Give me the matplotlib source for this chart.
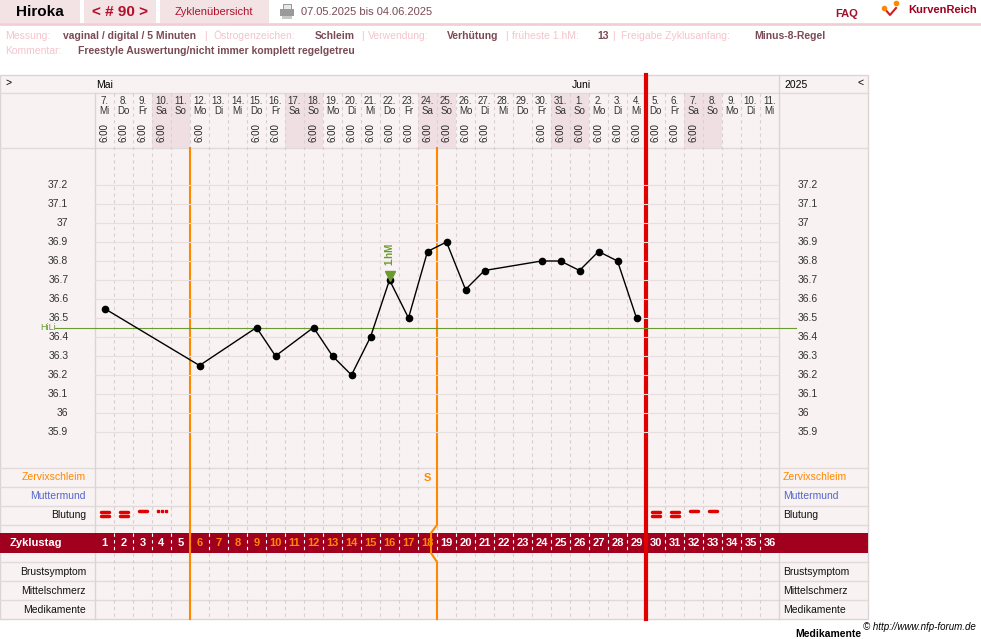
"""NFP cycle chart (KurvenReich style) rebuilt with matplotlib."""
import matplotlib; matplotlib.use("Agg")
import matplotlib.pyplot as plt
from matplotlib.patches import Rectangle

plt.rcParams["font.family"] = ["Liberation Sans", "DejaVu Sans"]

# ---- data ----
dates = ["7.", "8.", "9.", "10.", "11.", "12.", "13.", "14.", "15.", "16.", "17.", "18.",
         "19.", "20.", "21.", "22.", "23.", "24.", "25.", "26.", "27.", "28.", "29.", "30.",
         "31.", "1.", "2.", "3.", "4.", "5.", "6.", "7.", "8.", "9.", "10.", "11."]
weekdays = ["Mi", "Do", "Fr", "Sa", "So", "Mo", "Di", "Mi", "Do", "Fr", "Sa", "So",
            "Mo", "Di", "Mi", "Do", "Fr", "Sa", "So", "Mo", "Di", "Mi", "Do", "Fr",
            "Sa", "So", "Mo", "Di", "Mi", "Do", "Fr", "Sa", "So", "Mo", "Di", "Mi"]
time_days = [1, 2, 3, 4, 6, 9, 10, 12, 13, 14, 15, 16, 17, 18, 19, 20, 21,
             24, 25, 26, 27, 28, 29, 30, 31, 32]
temp_days = [1, 6, 9, 10, 12, 13, 14, 15, 16, 17, 18, 19, 20, 21, 24, 25, 26, 27, 28, 29]
temps = [36.55, 36.25, 36.45, 36.3, 36.45, 36.3, 36.2, 36.4, 36.7, 36.5, 36.85, 36.9,
         36.65, 36.75, 36.8, 36.8, 36.75, 36.85, 36.8, 36.5]
hili = 36.45
first_hm_day = 16
yticks = [35.9, 36.0, 36.1, 36.2, 36.3, 36.4, 36.5, 36.6, 36.7, 36.8, 36.9, 37.0, 37.1, 37.2]
bleed_days = [1, 2, 3, 4, 30, 31, 32, 33]
bleed_kind = ["=", "=", "-", ".", "=", "=", "-", "-"]
fertile_days = range(6, 19)
n_days = 36

# ---- layout (pixels) ----
W, H = 981, 639
X0, CW = 95, 19
XR = X0 + n_days * CW          # 779
XT = 868
BG = "#f8f2f2"; WE = "#f0dfe2"; GRID = "#d8d0d0"
ORANGE = "#ff8800"; RED = "#e00000"; DARK = "#a0001e"

def cx(d):
    return X0 + CW * (d - 0.5)

fig = plt.figure(figsize=(W / 100, H / 100), dpi=100)
ax = fig.add_axes([0, 0, 1, 1])
ax.set_xlim(0, W); ax.set_ylim(H, 0); ax.axis("off")

def rect(x, y, w, h, fc, ec="none", lw=0, z=0):
    ax.add_patch(Rectangle((x, y), w, h, fc=fc, ec=ec, lw=lw, zorder=z))

# header
rect(0, 0, 80, 23, "#f3e3e5"); rect(84, 0, 72, 23, "#f3e3e5"); rect(160, 0, 109, 23, "#f3e3e5")
ax.plot([0, W], [24, 24], c="#f0d0d5", lw=2)
ax.text(40, 12, "Hiroka", ha="center", va="center", fontsize=11, weight="bold")
ax.text(120, 12, "< # 90 >", ha="center", va="center", fontsize=11, weight="bold", color="#b0102a")
ax.text(214, 12, "Zyklenübersicht", ha="center", va="center", fontsize=8, color="#b0102a")
# printer icon
rect(280, 9, 14, 7, "#9a9a9a", z=2); rect(283, 4, 8, 6, "#e8e8e8", ec="#888", lw=0.6, z=1)
rect(282, 16, 10, 3, "#c8c8c8", z=2)
ax.text(301, 12, "07.05.2025 bis 04.06.2025", ha="left", va="center", fontsize=8, color="#7a4a55")
ax.text(847, 14, "FAQ", ha="center", va="center", fontsize=8, weight="bold", color="#a0102a")
ax.text(908, 10, "KurvenReich", ha="left", va="center", fontsize=8, weight="bold", color="#a0001e")
ax.plot([884, 890, 896], [8, 15, 8], c="#d02020", lw=1.5); ax.plot([884, 896], [8, 3], "o", c=ORANGE, ms=3)

lab = "#f4c4cc"; val = "#7a4a55"
items = [(5, "Messung:", lab), (63, "vaginal / digital / 5 Minuten", val), (204, "|", lab),
         (213, "Östrogenzeichen:", lab), (315, "Schleim", val), (361, "|", lab),
         (368, "Verwendung:", lab), (447, "Verhütung", val), (505, "|", lab),
         (512, "früheste 1.hM:", lab), (597, "13", val), (612, "|", lab),
         (621, "Freigabe Zyklusanfang:", lab), (754, "Minus-8-Regel", val)]
for x, s, c in items:
    ax.text(x, 36, s, ha="left", va="center", fontsize=7.5, color=c, weight="bold" if c == val else "normal")
ax.text(5, 51, "Kommentar:", ha="left", va="center", fontsize=7.5, color=lab)
ax.text(78, 51, "Freestyle Auswertung/nicht immer komplett regelgetreu", ha="left", va="center",
        fontsize=7.5, color=val, weight="bold")

# table background
rect(0, 75, XT, 544, BG, ec="#dcd4d4", lw=1)
for d in range(1, n_days + 1):
    if weekdays[d - 1] in ("Sa", "So"):
        rect(X0 + CW * (d - 1), 93, CW, 55, WE)
for y in [93, 148, 468, 487, 506, 525, 562, 581, 600]:
    ax.plot([0, XT], [y, y], c="#e2dada", lw=1, zorder=1)
ax.plot([XR, XR], [75, 619], c="#dcd4d4", lw=1, zorder=1)
ax.plot([X0, X0], [93, 619], c="#dcd4d4", lw=1, zorder=1)
for d in range(1, n_days):
    x = X0 + CW * d
    ax.plot([x, x], [93, 619], c=GRID, lw=0.8, ls=(0, (3, 3)), zorder=1)

ax.text(5, 83, ">", fontsize=7.5, va="center")
ax.text(864, 83, "<", fontsize=7.5, va="center", ha="right")
ax.text(cx(1) - 8, 85, "Mai", fontsize=7.5, va="center")
ax.text(cx(26) - 8, 85, "Juni", fontsize=7.5, va="center")
ax.text(784, 85, "2025", fontsize=7.5, va="center")
for d in range(1, n_days + 1):
    ax.text(cx(d), 101, dates[d - 1], ha="center", va="center", fontsize=7, color="#333")
    ax.text(cx(d), 111, weekdays[d - 1], ha="center", va="center", fontsize=7, color="#333")
for d in time_days:
    ax.text(cx(d), 133, "6:00", ha="center", va="center", fontsize=7, rotation=90, color="#222")

# side labels
for y, s, c in [(477, "Zervixschleim", ORANGE), (496, "Muttermund", "#5566cc"), (515, "Blutung", "#111"),
                (572, "Brustsymptom", "#111"), (591, "Mittelschmerz", "#111"), (610, "Medikamente", "#111")]:
    ax.text(86, y, s, ha="right", va="center", fontsize=7.5, color=c)
    ax.text(783, y, s, ha="left", va="center", fontsize=7.5, color=c)
ax.text(cx(18), 478, "S", ha="center", va="center", fontsize=8, weight="bold", color=ORANGE)

for d, k in zip(bleed_days, bleed_kind):
    x = cx(d)
    if k == "=":
        ax.plot([x - 4, x + 4], [512, 512], c=RED, lw=2.5, solid_capstyle="round", zorder=3)
        ax.plot([x - 4, x + 4], [516, 516], c=RED, lw=2.5, solid_capstyle="round", zorder=3)
    elif k == "-":
        ax.plot([x - 4, x + 4], [511, 511], c=RED, lw=2.5, solid_capstyle="round", zorder=3)
    else:
        ax.plot([x - 4, x, x + 4], [511, 511, 511], "s", c=RED, ms=1.5, zorder=3)

# Zyklustag band
rect(0, 533, XT, 20, DARK, z=2)
ax.text(10, 543, "Zyklustag", ha="left", va="center", fontsize=8, weight="bold", color="white", zorder=3)
for d in range(1, n_days + 1):
    ax.text(cx(d), 543, str(d), ha="center", va="center", fontsize=8, weight="bold",
            color=ORANGE if d in fertile_days else "white", zorder=3)
    if d < n_days:
        x = X0 + CW * d
        ax.plot([x, x], [533, 553], c="white", lw=0.8, ls=(0, (3, 3)), zorder=3)

# vertical markers
ax.plot([190, 190], [148, 619], c=ORANGE, lw=1.5, zorder=4)
xo = X0 + CW * 18
ax.plot([xo, xo, xo - 6, xo - 6, xo, xo], [148, 525, 533, 553, 562, 619], c=ORANGE, lw=1.5, zorder=4)
xr = X0 + CW * 29
ax.plot([xr, xr], [75, 619], c=RED, lw=3, zorder=5)

ax.text(976, 627, "© http://www.nfp-forum.de", ha="right", va="center", fontsize=7, style="italic")
ax.text(795, 634, "Medikamente", ha="left", va="center", fontsize=7.5, weight="bold")

# temperature chart
tax = fig.add_axes([X0 / W, (H - 468) / H, (XR - X0) / W, 320 / H])
tax.set_xlim(0.5, n_days + 0.5)
tax.set_ylim(37.2 - (468 - 185) / 190, 37.2 + (185 - 148) / 190)
tax.patch.set_alpha(0); tax.axis("off")
for t in yticks:
    tax.axhline(t, c="#e8dede", lw=0.8, zorder=0)
    tax.text(-0.9, t, f"{t:g}", ha="right", va="center", fontsize=7.5, color="#333", clip_on=False)
    tax.text(n_days + 1.5, t, f"{t:g}", ha="left", va="center", fontsize=7.5, color="#333", clip_on=False)
tax.plot([-1.6, n_days + 1.4], [hili, hili], c="#6a9a30", lw=0.8, clip_on=False)
tax.text(-2.4, hili, "HiLi", ha="left", va="center", fontsize=6.5, color="#6a9a30", clip_on=False)
tax.plot(temp_days, temps, c="black", lw=1, marker="o", ms=4.5, zorder=5)
i = temp_days.index(first_hm_day)
tax.plot([first_hm_day], [temps[i] + 0.02], marker="v", c="#6a9a30", ms=7, zorder=6)
tax.text(first_hm_day, temps[i] + 0.14, "1.hM", rotation=90, ha="center", va="center",
         fontsize=7, weight="bold", color="#6a9a30")

fig.savefig("out.png", dpi=100)
